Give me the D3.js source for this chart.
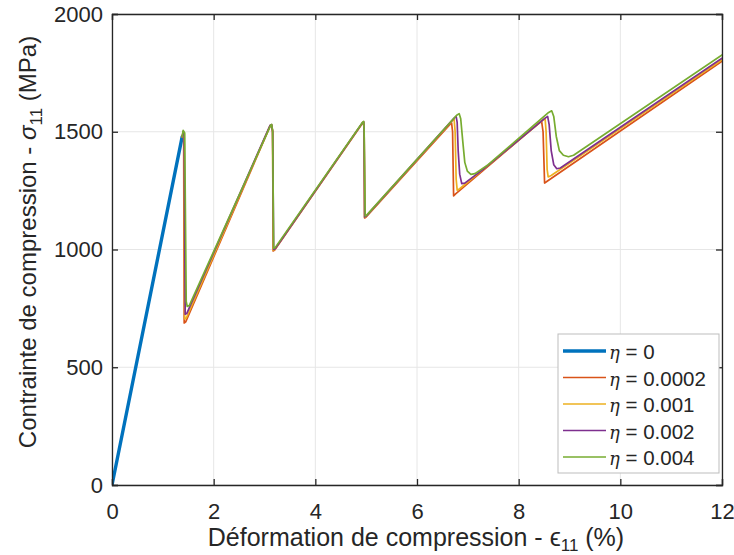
<!DOCTYPE html>
<html><head><meta charset="utf-8">
<script src="https://cdn.jsdelivr.net/npm/d3@7"></script>
<style>body{margin:0;background:#fff}svg{display:block}text{font-family:"Liberation Sans",Arial,sans-serif}</style>
</head><body><div id="chart"></div>
<script>
const seriesNames = ["η = 0", "η = 0.0002", "η = 0.001", "η = 0.002", "η = 0.004"];
const seriesColors = ["#0072BD", "#D95319", "#EDB120", "#7E2F8E", "#77AC30"];
const xTicks = [0, 2, 4, 6, 8, 10, 12];
const yTicks = [0, 500, 1000, 1500, 2000];

const eta0 = [[0,0],[1.38,1478]];
const eta0002 = [[1.38,1478],[1.40,1494],[1.41,1480],[1.42,688],[1.45,693],[3.11,1524],[3.14,1528],[3.16,1500],[3.17,994],[3.20,998],[4.93,1537],[4.95,1540],[4.96,1500],[4.97,1134],[5.00,1138],[6.68,1538],[6.70,1500],[6.72,1228],[6.76,1236],[8.45,1546],[8.48,1500],[8.51,1282],[8.56,1290],[12,1800]];
const eta001 = [[1.38,1478],[1.40,1498],[1.42,1480],[1.43,705],[1.46,708],[3.11,1526],[3.14,1529],[3.16,1500],[3.17,997],[3.20,1000],[4.93,1538],[4.95,1541],[4.96,1500],[4.97,1136],[5.00,1140],[6.70,1548],[6.73,1553],[6.75,1500],[6.77,1300],[6.79,1252],[6.84,1258],[7.20,1322],[8.49,1552],[8.52,1556],[8.54,1500],[8.56,1340],[8.58,1308],[8.64,1314],[12,1806]];
const eta002 = [[1.38,1478],[1.40,1501],[1.42,1490],[1.44,725],[1.47,728],[3.11,1527],[3.14,1530],[3.16,1500],[3.18,1000],[3.21,1003],[4.93,1539],[4.95,1542],[4.96,1500],[4.97,1138],[5.00,1142],[6.73,1558],[6.77,1565],[6.79,1540],[6.81,1420],[6.84,1320],[6.88,1280],[6.94,1282],[7.30,1340],[8.52,1558],[8.57,1565],[8.60,1530],[8.64,1420],[8.69,1360],[8.75,1343],[8.82,1346],[12,1812]];
const eta004 = [[1.38,1478],[1.40,1506],[1.43,1495],[1.46,780],[1.48,758],[1.52,762],[3.12,1527],[3.14,1531],[3.16,1505],[3.18,1005],[3.21,1008],[4.93,1540],[4.95,1544],[4.96,1505],[4.98,1142],[5.01,1146],[6.78,1570],[6.83,1577],[6.86,1555],[6.90,1460],[6.94,1370],[6.99,1333],[7.06,1319],[7.14,1322],[7.40,1360],[8.59,1582],[8.65,1589],[8.69,1565],[8.74,1480],[8.80,1420],[8.88,1400],[8.98,1394],[9.08,1400],[12,1826]];
const seriesData = [eta0, eta0002, eta001, eta002, eta004];
const seriesWidths = [3.4, 1.7, 1.7, 1.7, 1.7];

const W = 734, H = 555;
const m = {left:112, right:722, top:14, bottom:485};
const svg = d3.select("#chart").append("svg").attr("width", W).attr("height", H);
const x = d3.scaleLinear().domain([0,12]).range([m.left, m.right]);
const y = d3.scaleLinear().domain([0,2000]).range([m.bottom, m.top]);

const axisCol = "#262626";
const g = svg.append("g");
g.selectAll("line.gx").data(xTicks).join("line").attr("x1",d=>x(d)).attr("x2",d=>x(d)).attr("y1",m.top).attr("y2",m.bottom).attr("stroke","#e6e6e6").attr("stroke-width",1);
g.selectAll("line.gy").data(yTicks).join("line").attr("y1",d=>y(d)).attr("y2",d=>y(d)).attr("x1",m.left).attr("x2",m.right).attr("stroke","#e6e6e6").attr("stroke-width",1);

const line = d3.line().x(d=>x(d[0])).y(d=>y(d[1]));
svg.append("clipPath").attr("id","clip").append("rect").attr("x",m.left).attr("y",m.top).attr("width",m.right-m.left).attr("height",m.bottom-m.top);
const lg = svg.append("g").attr("clip-path","url(#clip)");
seriesData.forEach((s,i)=>{
  lg.append("path").datum(s).attr("d",line).attr("fill","none").attr("stroke",seriesColors[i]).attr("stroke-width",seriesWidths[i]).attr("stroke-linejoin","round").attr("stroke-linecap","round");
});

const fs = 22;
const ax = svg.append("g").attr("transform",`translate(0,${m.bottom})`).call(d3.axisBottom(x).tickValues(xTicks).tickSize(-6).tickPadding(18).tickFormat(d3.format("d")));
const ax2 = svg.append("g").attr("transform",`translate(0,${m.top})`).call(d3.axisTop(x).tickValues(xTicks).tickSize(-6).tickFormat(""));
const ay = svg.append("g").attr("transform",`translate(${m.left},0)`).call(d3.axisLeft(y).tickValues(yTicks).tickSize(-6).tickPadding(9).tickFormat(d3.format("d")));
const ay2 = svg.append("g").attr("transform",`translate(${m.right},0)`).call(d3.axisRight(y).tickValues(yTicks).tickSize(-6).tickFormat(""));
[ax,ax2,ay,ay2].forEach(a=>{
  a.select(".domain").attr("stroke",axisCol).attr("stroke-width",1.3);
  a.selectAll(".tick line").attr("stroke",axisCol).attr("stroke-width",1.3);
  a.selectAll("text").attr("fill",axisCol).style("font-size",fs+"px").style("font-family",'"Liberation Sans",Arial,sans-serif');
});

const xl = svg.append("text").attr("x",416).attr("y",546).attr("text-anchor","middle").attr("fill",axisCol).style("font-size","25px");
xl.append("tspan").text("Déformation de compression - ");
xl.append("tspan").text("ϵ");
xl.append("tspan").attr("dy",5).style("font-size","17px").text("11");
xl.append("tspan").attr("dy",-5).text(" (%)");

const yl = svg.append("text").attr("transform",`translate(36,242) rotate(-90)`).attr("text-anchor","middle").attr("fill",axisCol).style("font-size","24px");
yl.append("tspan").text("Contrainte de compression - ");
yl.append("tspan").style("font-style","italic").text("σ");
yl.append("tspan").attr("dy",6).style("font-size","17px").text("11");
yl.append("tspan").attr("dy",-6).text(" (MPa)");

const leg = svg.append("g");
leg.append("rect").attr("x",558).attr("y",334).attr("width",161).attr("height",139).attr("fill","#fff").attr("stroke","#bdbdbd").attr("stroke-width",1);
const legY = d3.scaleLinear().domain([0,4]).range([351,457]);
seriesNames.forEach((n,i)=>{
  const yy = legY(i);
  leg.append("line").attr("x1",563).attr("x2",606).attr("y1",yy).attr("y2",yy).attr("stroke",seriesColors[i]).attr("stroke-width",seriesWidths[i]);
  const t = leg.append("text").attr("x",609).attr("y",yy+8).attr("fill",axisCol).style("font-size","20.5px");
  t.append("tspan").style("font-style","italic").style("font-family","'DejaVu Serif',serif").style("font-size","18px").text("η");
  t.append("tspan").text(n.slice(1));
});
</script></body></html>
